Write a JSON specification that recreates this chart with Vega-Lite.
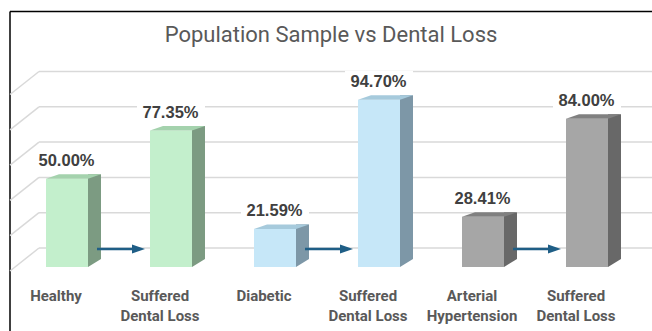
{
  "$schema": "https://vega.github.io/schema/vega-lite/v6.json",
  "width": 642,
  "height": 319.5,
  "autosize": {"type": "none"},
  "padding": {"left": 10, "top": 11.5, "right": 0, "bottom": 0},
  "background": "white",
  "config": {"view": {"stroke": null}},
  "title": {
    "text": "Population Sample vs Dental Loss",
    "font": "Roboto",
    "fontSize": 22,
    "fontWeight": "normal",
    "color": "#595959",
    "anchor": "middle",
    "frame": "group",
    "baseline": "alphabetic",
    "offset": -53.5
  },
  "datasets": {
    "bars": [
      {"bar": "Healthy", "group": "Healthy", "stage": "Sample", "label": "Healthy", "share": 0.5},
      {"bar": "Healthy: Suffered Dental Loss", "group": "Healthy", "stage": "Suffered Dental Loss", "label": "Suffered\nDental Loss", "share": 0.7735},
      {"bar": "Diabetic", "group": "Diabetic", "stage": "Sample", "label": "Diabetic", "share": 0.2159},
      {"bar": "Diabetic: Suffered Dental Loss", "group": "Diabetic", "stage": "Suffered Dental Loss", "label": "Suffered\nDental Loss", "share": 0.947},
      {"bar": "Arterial Hypertension", "group": "Arterial Hypertension", "stage": "Sample", "label": "Arterial\nHypertension", "share": 0.2841},
      {"bar": "Arterial Hypertension: Suffered Dental Loss", "group": "Arterial Hypertension", "stage": "Suffered Dental Loss", "label": "Suffered\nDental Loss", "share": 0.84}
    ],
    "grid": [
      {"level": 0}, {"level": 0.2}, {"level": 0.4}, {"level": 0.6}, {"level": 0.8}, {"level": 1}
    ]
  },
  "layer": [
    {
      "data": {"values": [{}]},
      "layer": [
        {
          "mark": {"type": "rule", "color": "#000000", "strokeWidth": 1.5},
          "encoding": {"x": {"datum": 0, "type": "quantitative", "scale": {"domain": [0, 1]}, "axis": null}}
        },
        {
          "mark": {"type": "rule", "color": "#000000", "strokeWidth": 1.5},
          "encoding": {"y": {"datum": 1, "type": "quantitative", "scale": {"domain": [0, 1]}, "axis": null}}
        }
      ]
    },
    {
      "data": {"name": "bars"},
      "encoding": {
        "x": {
          "field": "bar",
          "type": "nominal",
          "scale": {
            "domain": [
              "Healthy",
              "Healthy: Suffered Dental Loss",
              "Diabetic",
              "Diabetic: Suffered Dental Loss",
              "Arterial Hypertension",
              "Arterial Hypertension: Suffered Dental Loss"
            ],
            "range": [5, 629],
            "paddingInner": 0,
            "paddingOuter": 0
          },
          "axis": null
        },
        "y": {
          "field": "share",
          "type": "quantitative",
          "scale": {"domain": [0, 1], "range": [255.5, 79], "nice": false},
          "axis": null
        }
      },
      "layer": [
        {
          "data": {"name": "grid"},
          "mark": {"type": "rule", "color": "#d9d9d9", "strokeWidth": 1.5, "xOffset": -28, "x2Offset": 65, "yOffset": -19},
          "encoding": {
            "x": {"datum": "Healthy"},
            "x2": {"datum": "Arterial Hypertension: Suffered Dental Loss"},
            "y": {"field": "level", "type": "quantitative"}
          }
        },
        {
          "data": {"name": "grid"},
          "mark": {"type": "rule", "color": "#d9d9d9", "strokeWidth": 1.5, "xOffset": -28, "x2Offset": -57, "yOffset": -19, "y2Offset": 4},
          "encoding": {
            "x": {"datum": "Healthy"},
            "x2": {"datum": "Healthy"},
            "y": {"field": "level", "type": "quantitative"},
            "y2": {"field": "level"}
          }
        },
        {
          "mark": {"type": "bar", "width": 13, "xOffset": 27.5, "yOffset": -4.5, "y2Offset": -8},
          "encoding": {
            "y2": {"datum": 0},
            "color": {
              "field": "group", "type": "nominal", "legend": null,
              "scale": {"domain": ["Healthy", "Diabetic", "Arterial Hypertension"], "range": ["#7c9b82", "#7d97a7", "#686868"]}
            }
          }
        },
        {
          "mark": {"type": "point", "shape": "M21,-8 L34,-8 L21,0 Z", "size": 4, "filled": true, "opacity": 1, "strokeWidth": 0},
          "encoding": {
            "y": {"datum": 0, "type": "quantitative"},
            "color": {
              "field": "group", "type": "nominal", "legend": null,
              "scale": {"domain": ["Healthy", "Diabetic", "Arterial Hypertension"], "range": ["#7c9b82", "#7d97a7", "#686868"]}
            }
          }
        },
        {
          "mark": {"type": "bar", "width": 42},
          "encoding": {
            "y2": {"datum": 0},
            "color": {
              "field": "group", "type": "nominal", "legend": null,
              "scale": {"domain": ["Healthy", "Diabetic", "Arterial Hypertension"], "range": ["#c3efcc", "#c6e7f8", "#a6a6a6"]}
            }
          }
        },
        {
          "mark": {"type": "point", "shape": "M-21,0 L21,0 L34,-4.5 L-8,-4.5 Z", "size": 4, "filled": true, "opacity": 1, "strokeWidth": 0},
          "encoding": {
            "color": {
              "field": "group", "type": "nominal", "legend": null,
              "scale": {"domain": ["Healthy", "Diabetic", "Arterial Hypertension"], "range": ["#a4d2ad", "#a6cadc", "#808080"]}
            }
          }
        },
        {
          "transform": [{"filter": "datum.stage === 'Sample'"}],
          "mark": {
            "type": "point",
            "shape": "M30,-19.3 L65,-19.3 L65,-22.5 L78,-18 L65,-13.5 L65,-16.7 L30,-16.7 Z",
            "size": 4, "filled": true, "opacity": 1, "strokeWidth": 0, "color": "#1f5e86"
          },
          "encoding": {"y": {"datum": 0, "type": "quantitative"}}
        },
        {
          "mark": {"type": "point", "shape": "M-34,-29 L34,-29 L34,-7 L-34,-7 Z", "size": 4, "filled": true, "opacity": 1, "strokeWidth": 0, "color": "#ffffff"}
        },
        {
          "mark": {"type": "text", "font": "Liberation Sans", "fontSize": 16.5, "fontWeight": "bold", "color": "#404040", "align": "center", "baseline": "alphabetic", "dx": -0.5, "dy": -12.5},
          "encoding": {"text": {"field": "share", "type": "quantitative", "format": ".2%"}}
        },
        {
          "mark": {"type": "text", "font": "Roboto", "fontSize": 15, "fontWeight": "bold", "color": "#595959", "align": "center", "baseline": "alphabetic", "dx": -11, "dy": 34, "lineBreak": "\n", "lineHeight": 19.5},
          "encoding": {
            "y": {"datum": 0, "type": "quantitative"},
            "text": {"field": "label", "type": "nominal"}
          }
        }
      ],
      "resolve": {"scale": {"color": "independent"}}
    }
  ],
  "resolve": {"scale": {"x": "independent", "y": "independent"}}
}
